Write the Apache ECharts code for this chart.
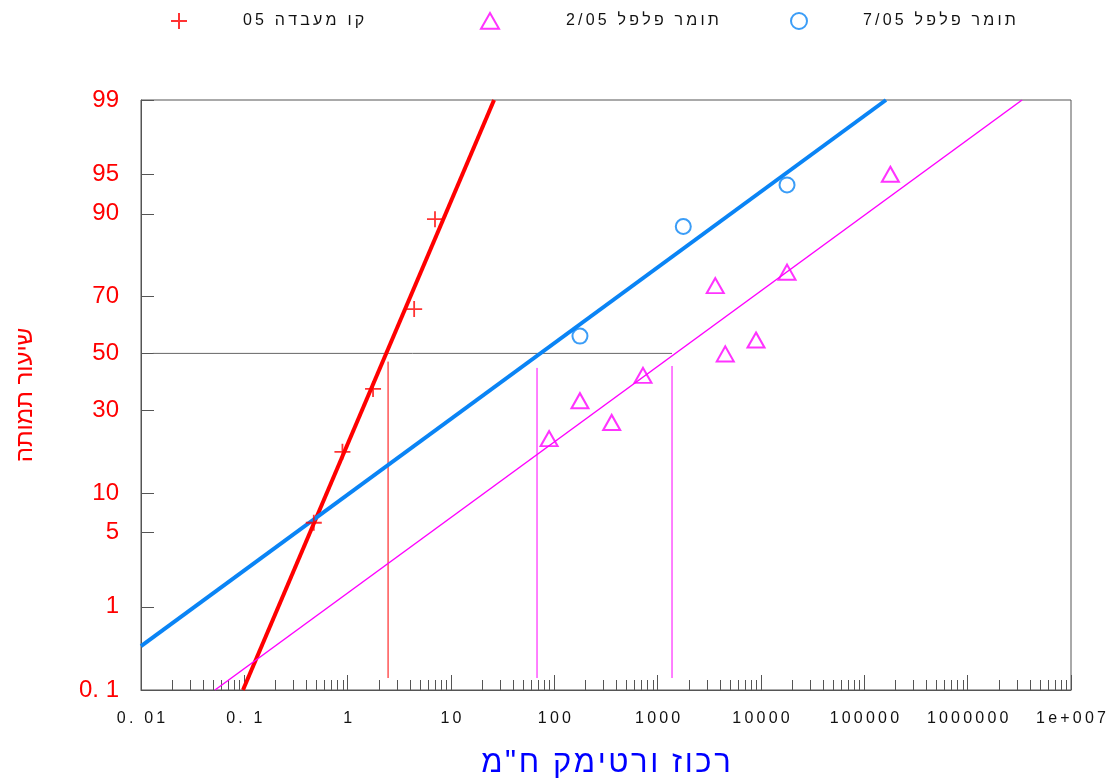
<!DOCTYPE html>
<html><head><meta charset="utf-8">
<script src="https://cdn.jsdelivr.net/npm/echarts@6/dist/echarts.min.js"></script>
<style>html,body{margin:0;padding:0;background:#fff}#c{width:1112px;height:780px}</style>
</head><body><div id="c"></div>
<script>
// ---------- data (concentration ppm, mortality %) ----------
const labConc  = [0.47, 0.89, 1.76, 4.4, 7.0];
const labMort  = [6.0, 18.3, 37.2, 65.8, 89.1];
const p705Conc = [177, 1770, 17860];
const p705Mort = [56.3, 87.8, 93.9];
const p205Conc = [89, 177, 359, 721, 3610, 4510, 8950, 17860, 178600];
const p205Mort = [21.7, 33.2, 26.3, 42.0, 73.3, 49.8, 54.9, 77.2, 95.0];
// fitted probit lines (end points)
const labFitConc  = [0.097, 26.1];
const labFitMort  = [0.1, 99];
const p705FitConc = [0.01, 162000];
const p705FitMort = [0.36, 99];
const p205FitConc = [0.052, 3360000];
const p205FitMort = [0.1, 99];
// LC50 guides
const lc50Conc = [2.46, 68, 1377];
const guideTopMort = [47, 44.7, 45.4];
const guideBottomMort = 0.144;
const guideStartConc = 0.013;
// names
const seriesNames = ['קו מעבדה 05', 'תומר פלפל 2/05', 'תומר פלפל 7/05'];
const xTitle = 'רכוז ורטימק ח"מ';
const yTitle = 'שיעור תמותה';
// ticks
const yTickMort = [0.1, 1, 5, 10, 30, 50, 70, 90, 95, 99];
const yTickLabels = ['0. 1', '1', '5', '10', '30', '50', '70', '90', '95', '99'];
const xDecades = [0.01, 0.1, 1, 10, 100, 1000, 10000, 100000, 1000000, 10000000];
const xTickLabels = ['0. 01', '0. 1', '1', '10', '100', '1000', '10000', '100000', '1000000', '1e+007'];
const xMinorMultipliers = [2, 3, 4, 5, 6, 7, 8, 9];

// ---------- probit (normal probability) transform of the y scale ----------
function probit(pct) {
  const p = pct / 100;
  const a = [-3.969683028665376e+01, 2.209460984245205e+02, -2.759285104469687e+02, 1.383577518672690e+02, -3.066479806614716e+01, 2.506628277459239e+00];
  const b = [-5.447609879822406e+01, 1.615858368580409e+02, -1.556989798598866e+02, 6.680131188771972e+01, -1.328068155288572e+01];
  const c = [-7.784894002430293e-03, -3.223964580411365e-01, -2.400758277161838e+00, -2.549732539343734e+00, 4.374664141464968e+00, 2.938163982698783e+00];
  const d = [7.784695709041462e-03, 3.224671290700398e-01, 2.445134137142996e+00, 3.754408661907416e+00];
  const pl = 0.02425, ph = 1 - pl;
  let q, r;
  if (p < pl) { q = Math.sqrt(-2 * Math.log(p)); return (((((c[0]*q+c[1])*q+c[2])*q+c[3])*q+c[4])*q+c[5]) / ((((d[0]*q+d[1])*q+d[2])*q+d[3])*q+1); }
  if (p <= ph) { q = p - 0.5; r = q*q; return (((((a[0]*r+a[1])*r+a[2])*r+a[3])*r+a[4])*r+a[5])*q / (((((b[0]*r+b[1])*r+b[2])*r+b[3])*r+b[4])*r+1); }
  q = Math.sqrt(-2 * Math.log(1 - p)); return -(((((c[0]*q+c[1])*q+c[2])*q+c[3])*q+c[4])*q+c[5]) / ((((d[0]*q+d[1])*q+d[2])*q+d[3])*q+1);
}
const pairs = (xs, ys) => xs.map((x, i) => [x, probit(ys[i])]);
// letter spacing with thin spaces; right-to-left embedding with number runs kept left-to-right
const spaced = (s, sp) => s.split('').join(sp || '\u2009');
const spacedBidi = s => '\u202B' + (s.match(/[0-9\/.+]+|[^0-9\/.+]+/g) || [])
  .map(run => /[0-9]/.test(run) ? '\u202A' + spaced(run) + '\u202C' : spaced(run)).join('\u2009') + '\u202C';

const yTickZ = yTickMort.map(probit);
const xMinor = [];
xDecades.slice(0, -1).forEach(d => xMinorMultipliers.forEach(m => xMinor.push(d * m)));

function nearestIdx(arr, v, f) {
  let best = 0;
  for (let i = 1; i < arr.length; i++) if (Math.abs(f(arr[i]) - f(v)) < Math.abs(f(arr[best]) - f(v))) best = i;
  return best;
}

const FONT = "'Liberation Sans', Arial, 'DejaVu Sans', sans-serif";
const RED = '#ff0000', MAG = '#ff00ff', BLUE = '#0a84f5', AX = '#555';
const z50 = probit(50);

const guideSeries = [
  { data: [[guideStartConc, z50], [Math.max(...lc50Conc), z50]], color: '#666' }
].concat(lc50Conc.map((c, i) => ({
  data: [[c, probit(guideTopMort[i])], [c, probit(guideBottomMort)]], color: i === 0 ? RED : MAG
}))).map(s => ({
  type: 'line', data: s.data, symbol: 'none', silent: true, animation: false,
  lineStyle: { color: s.color, width: 1 }, z: 1
}));

const fitSeries = [
  { d: pairs(labFitConc, labFitMort), c: RED, w: 4 },
  { d: pairs(p705FitConc, p705FitMort), c: BLUE, w: 4 },
  { d: pairs(p205FitConc, p205FitMort), c: MAG, w: 1.5 }
].map(s => ({
  type: 'line', data: s.d, symbol: 'none', silent: true, animation: false,
  lineStyle: { color: s.c, width: s.w }, z: 2
}));

const PLUS = 'path://M8,0L8,16M0,8L16,8';
const TRI = 'path://M8,0L16,14L0,14Z';
const symbols = [PLUS, TRI, 'circle'];
const colors = [RED, MAG, BLUE];
const scatterSeries = [
  { name: seriesNames[0], data: pairs(labConc, labMort), symbolSize: 16, bw: 1.8 },
  { name: seriesNames[1], data: pairs(p205Conc, p205Mort), symbolSize: [17, 15], bw: 2 },
  { name: seriesNames[2], data: pairs(p705Conc, p705Mort), symbolSize: 15, bw: 2 }
].map((s, i) => ({
  name: s.name, type: 'scatter', data: s.data, symbol: symbols[i], symbolSize: s.symbolSize,
  itemStyle: { color: 'rgba(0,0,0,0)', borderColor: colors[i], borderWidth: s.bw },
  animation: false, z: 3
}));

const legendIconLeft = [165, 475, 785];
const legendTextGap = [51, 62, 51];
const legends = [0, 1, 2].map(i => ({
  data: [{ name: seriesNames[i], icon: symbols[i] }], left: legendIconLeft[i], top: 7, orient: 'horizontal',
  itemWidth: i === 1 ? 18 : 16, itemHeight: 16, selectedMode: false,
  itemStyle: { color: 'rgba(0,0,0,0)', borderColor: colors[i], borderWidth: 2 },
  formatter: n => spacedBidi(n),
  textStyle: { fontFamily: FONT, fontSize: 16, color: '#111', padding: [0, 0, 0, legendTextGap[i]] }
}));

const chart = echarts.init(document.getElementById('c'), null, { renderer: 'canvas' });
chart.setOption({
  animation: false,
  backgroundColor: '#fff',
  legend: legends,
  grid: { left: 141, top: 100, right: 41, bottom: 90, show: true, borderColor: AX, borderWidth: 1,
          containLabel: false, outerBoundsMode: 'none' },
  xAxis: [{
    type: 'log', logBase: 10, min: 0.01, max: 10000000, position: 'bottom',
    name: spaced(xTitle, '\u200A'), nameLocation: 'middle', nameGap: 58,
    nameTextStyle: { fontFamily: FONT, fontSize: 31, color: '#0000ff' },
    axisLine: { show: true, onZero: false, lineStyle: { color: AX, width: 1 } },
    axisTick: { show: true, inside: true, length: 15, customValues: xDecades, lineStyle: { color: AX } },
    axisLabel: { customValues: xDecades, margin: 21, fontFamily: FONT, fontSize: 16, color: '#111',
      formatter: v => spaced(xTickLabels[nearestIdx(xDecades, v, Math.log10)]) },
    splitLine: { show: false }, minorTick: { show: false }
  }, {
    type: 'log', logBase: 10, min: 0.01, max: 10000000, position: 'bottom',
    axisLine: { show: false, onZero: false },
    axisTick: { show: true, inside: true, length: 10, customValues: xMinor, lineStyle: { color: AX } },
    axisLabel: { show: false }, splitLine: { show: false }
  }],
  yAxis: [{
    type: 'value', min: probit(0.1), max: probit(99),
    name: yTitle, nameLocation: 'middle', nameGap: 104, nameRotate: 90,
    nameTextStyle: { fontFamily: FONT, fontSize: 24, color: RED },
    axisLine: { show: true, onZero: false, lineStyle: { color: AX, width: 1 } },
    axisTick: { show: true, inside: true, length: 13, customValues: yTickZ, lineStyle: { color: AX } },
    axisLabel: { customValues: yTickZ, margin: 22, fontFamily: FONT, fontSize: 24, color: RED,
      formatter: v => yTickLabels[nearestIdx(yTickZ, v, x => x)] },
    splitLine: { show: false }
  }],
  series: guideSeries.concat(fitSeries, scatterSeries)
});
</script></body></html>
